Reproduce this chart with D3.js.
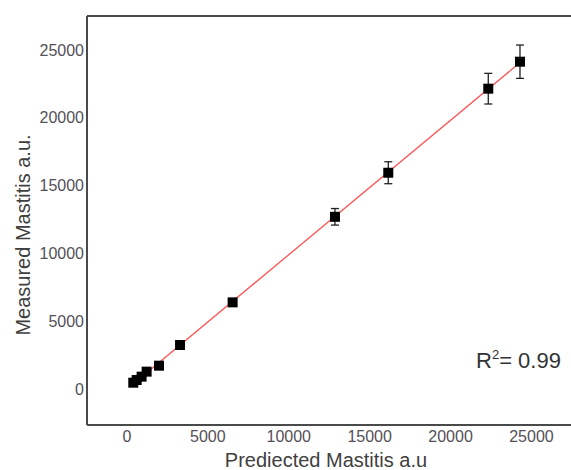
<!DOCTYPE html>
<html lang="en">
<head>
    <meta charset="UTF-8">
    <title>Measured vs Predicted Mastitis</title>
    <script src="https://d3js.org/d3.v7.min.js"></script>
    <style>
        body {
            margin: 0;
            background: #ffffff;
            font-family: "Liberation Sans", Arial, sans-serif;
        }
        .tick-label {
            font-size: 16px;
            fill: #555058;
        }
        .axis-title {
            font-size: 20px;
            fill: #404040;
        }
    </style>
</head>
<body>
    <svg id="chart" width="571" height="470"></svg>

    <script>
        // values
        const predicted = [390, 600, 905, 1215, 1980, 3280, 6530, 12855, 16150, 22330, 24290];
        const measured = [465, 665, 910, 1280, 1720, 3245, 6390, 12700, 15950, 22150, 24140];
        const errors = [0, 0, 0, 0, 0, 0, 0, 610, 810, 1130, 1230];
        const xTicks = [0, 5000, 10000, 15000, 20000, 25000];
        const yTicks = [0, 5000, 10000, 15000, 20000, 25000];

        const margin = {top: 16, left: 87};
        const width = 488;   // runs past the right edge of the picture
        const height = 409;

        const svg = d3.select("#chart");
        const g = svg.append("g")
            .attr("transform", `translate(${margin.left},${margin.top})`);

        const x = d3.scaleLinear().domain([-2470, 27690]).range([0, width]);
        const y = d3.scaleLinear().domain([-2655, 27510]).range([height, 0]);

        const points = predicted.map((p, i) => ({x: p, y: measured[i], e: errors[i]}));

        // least squares fit for the red line
        const mx = d3.mean(points, d => d.x);
        const my = d3.mean(points, d => d.y);
        const slope = d3.sum(points, d => (d.x - mx) * (d.y - my)) / d3.sum(points, d => (d.x - mx) ** 2);
        const icpt = my - slope * mx;
        const xExt = d3.extent(predicted);

        g.append("line")
            .attr("x1", x(xExt[0])).attr("y1", y(icpt + slope * xExt[0]))
            .attr("x2", x(xExt[1])).attr("y2", y(icpt + slope * xExt[1]))
            .attr("stroke", "#ff5050")
            .attr("stroke-width", 1.3);

        // error bars
        const bars = g.selectAll(".err")
            .data(points.filter(d => d.e > 0))
          .enter().append("g")
            .attr("class", "err")
            .attr("stroke", "#222")
            .attr("stroke-width", 1.3);

        bars.append("line")
            .attr("x1", d => x(d.x)).attr("x2", d => x(d.x))
            .attr("y1", d => y(d.y - d.e)).attr("y2", d => y(d.y + d.e));
        bars.append("line")
            .attr("x1", d => x(d.x) - 4).attr("x2", d => x(d.x) + 4)
            .attr("y1", d => y(d.y + d.e)).attr("y2", d => y(d.y + d.e));
        bars.append("line")
            .attr("x1", d => x(d.x) - 4).attr("x2", d => x(d.x) + 4)
            .attr("y1", d => y(d.y - d.e)).attr("y2", d => y(d.y - d.e));

        // square markers
        const sz = 10;
        g.selectAll(".pt")
            .data(points)
          .enter().append("rect")
            .attr("class", "pt")
            .attr("x", d => x(d.x) - sz / 2)
            .attr("y", d => y(d.y) - sz / 2)
            .attr("width", sz)
            .attr("height", sz)
            .attr("fill", "#000");

        // frame: left, top, bottom
        const frame = g.append("g").attr("stroke", "#4a4a4a").attr("stroke-width", 2);
        frame.append("line").attr("x1", 0).attr("x2", 0).attr("y1", 0).attr("y2", height);
        frame.append("line").attr("x1", 0).attr("x2", width).attr("y1", 0).attr("y2", 0);
        frame.append("line").attr("x1", 0).attr("x2", width).attr("y1", height).attr("y2", height);

        // tick labels
        g.selectAll(".xt")
            .data(xTicks)
          .enter().append("text")
            .attr("class", "tick-label")
            .attr("x", d => x(d))
            .attr("y", height + 17)
            .attr("text-anchor", "middle")
            .text(d => d);

        g.selectAll(".yt")
            .data(yTicks)
          .enter().append("text")
            .attr("class", "tick-label")
            .attr("x", -3)
            .attr("y", d => y(d))
            .attr("dy", "0.35em")
            .attr("text-anchor", "end")
            .text(d => d);

        // axis titles
        svg.append("text")
            .attr("class", "axis-title")
            .attr("x", 326)
            .attr("y", 467)
            .attr("text-anchor", "middle")
            .text("Prediected Mastitis a.u");

        svg.append("text")
            .attr("class", "axis-title")
            .attr("transform", "translate(30,235) rotate(-90)")
            .attr("text-anchor", "middle")
            .text("Measured Mastitis a.u.");

        // R squared
        const r2 = svg.append("text")
            .attr("x", 476)
            .attr("y", 368)
            .attr("font-size", 22)
            .attr("fill", "#333");
        r2.append("tspan").text("R");
        r2.append("tspan").attr("font-size", 13).attr("dy", -9).text("2");
        r2.append("tspan").attr("dy", 9).text("= 0.99");
    </script>
</body>
</html>
